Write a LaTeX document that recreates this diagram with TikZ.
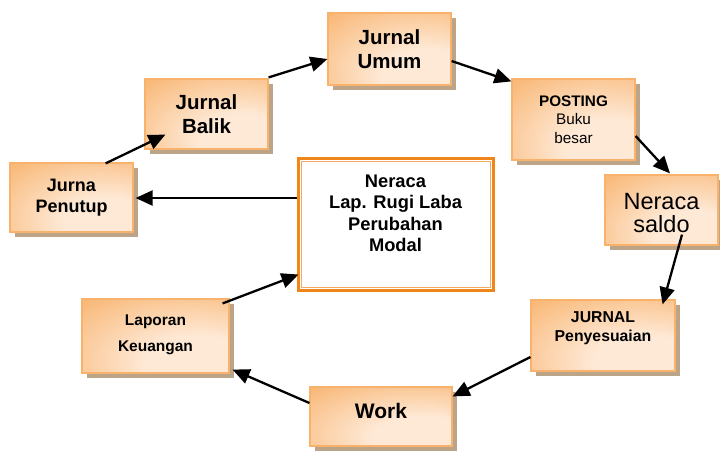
\documentclass[tikz,border=0pt]{standalone}
\usepackage{fontspec}
\setmainfont{Liberation Sans}
\usetikzlibrary{arrows.meta,shadows}

\definecolor{boxorange}{HTML}{F7A95A}
\definecolor{boxlight}{HTML}{FEE9D6}
\definecolor{boxedge}{HTML}{F9B26C}
\definecolor{shadowc}{HTML}{BCA488}
\definecolor{frameorange}{HTML}{F08519}
\definecolor{frameinner}{HTML}{F5A860}

% soft glow, light towards the lower right, orange towards the edges
\pgfdeclareradialshading{boxglow}{\pgfpoint{18bp}{-22bp}}{%
  color(0bp)=(boxlight); color(18bp)=(boxlight);
  color(58bp)=(boxorange); color(100bp)=(boxorange)}

\tikzset{
  stepbox/.style={rectangle, draw=boxedge, line width=1.2pt, inner sep=0pt,
    shade, shading=boxglow,
    drop shadow={shadow xshift=5pt, shadow yshift=-5pt, fill=shadowc, opacity=1}},
  txt/.style={align=center, inner sep=0pt, text=black},
  flow/.style={line width=2.3pt, -{Triangle[length=17pt,width=15pt]}},
}

\begin{document}
\begin{tikzpicture}[x=1pt,y=-1pt]
\useasboundingbox (0,0) rectangle (720,451);

% cycle boxes
\node[stepbox, minimum width=123pt, minimum height=72pt] (umum) at (389.5,49) {};
\node[stepbox, minimum width=123pt, minimum height=70pt] (balik) at (206.5,114) {};
\node[stepbox, minimum width=123pt, minimum height=81pt] (posting) at (573.5,119.5) {};
\node[stepbox, minimum width=113pt, minimum height=70pt] (saldo) at (661.5,210) {};
\node[stepbox, minimum width=123pt, minimum height=69pt] (penutup) at (71.5,197.5) {};
\node[stepbox, minimum width=147pt, minimum height=74pt] (lapkeu) at (155.5,336) {};
\node[stepbox, minimum width=144pt, minimum height=71pt] (penyes) at (603,335.5) {};
\node[stepbox, minimum width=142pt, minimum height=59pt] (work) at (381,416.5) {};

% central report box with double orange frame
\node[rectangle, draw=frameorange, line width=3pt, fill=white,
      minimum width=195pt, minimum height=132pt, inner sep=0pt] (laporan) at (395.5,224) {};
\draw[frameinner, line width=1pt]
  ([shift={(4.5,4.5)}]laporan.north west) rectangle ([shift={(-4.5,-4.5)}]laporan.south east);

% labels
\node[txt, font={\fontsize{20.5}{23.5}\selectfont\bfseries}] (t-umum) at (umum.center) {Jurnal\\Umum};
\node[txt, font={\fontsize{20.5}{23.5}\selectfont\bfseries}] (t-balik) at (balik.center) {Jurnal\\Balik};
\node[txt, font={\fontsize{15.3}{18.5}\selectfont}] (t-posting) at (posting.center)
  {\textbf{POSTING}\\Buku\\besar};
\node[txt, font={\fontsize{23.5}{22.5}\selectfont}] (t-saldo) at ([shift={(0,3)}]saldo.center) {Neraca\\saldo};
\node[txt, font={\fontsize{18}{21.5}\selectfont\bfseries}] (t-penutup) at (penutup.center) {Jurna\\Penutup};
\node[txt, font={\fontsize{15.5}{26}\selectfont\bfseries}] (t-lapkeu) at ([shift={(0,-1)}]lapkeu.center) {Laporan\\Keuangan};
\node[txt, font={\fontsize{15.8}{19}\selectfont\bfseries}] (t-penyes) at ([shift={(0,-7)}]penyes.center) {JURNAL\\Penyesuaian};
\node[txt, font={\fontsize{21}{24}\selectfont\bfseries}] (t-work) at ([shift={(0,-6)}]work.center) {Work};
\node[txt, font={\fontsize{18.3}{21.5}\selectfont\bfseries}] (t-laporan) at ([shift={(0,-10.5)}]laporan.center)
  {Neraca\\Lap. Rugi Laba\\Perubahan\\Modal};

% cycle connectors
\draw[flow] ([shift={(-28,1)}]penutup.north east) -- ([shift={(21,-15)}]balik.south west);
\draw[flow] ([shift={(0,-1)}]balik.north east) -- ([shift={(0,10)}]umum.west);
\draw[flow] ([shift={(0,12)}]umum.east) -- ([shift={(0,3)}]posting.north west);
\draw[flow] ([shift={(0,16.5)}]posting.east) -- ([shift={(8.5,-1)}]saldo.north);
\draw[flow] ([shift={(20.5,-11)}]saldo.south) -- ([shift={(-13,5)}]penyes.north east);
\draw[flow] ([shift={(0,21.5)}]penyes.west) -- ([shift={(0,10)}]work.north east);
\draw[flow] ([shift={(0,-13.5)}]work.west) -- ([shift={(3,-4)}]lapkeu.south east);
\draw[flow] ([shift={(-7,5)}]lapkeu.north east) -- ([shift={(2,-17)}]laporan.south west);
\draw[flow] ([shift={(0,-26)}]laporan.west) -- ([shift={(2,0.5)}]penutup.east);
\end{tikzpicture}
\end{document}
